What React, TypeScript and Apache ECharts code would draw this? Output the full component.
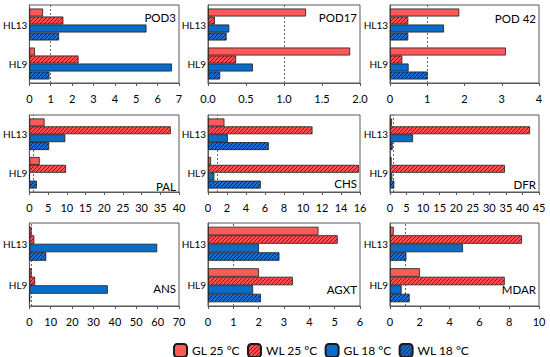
import React, { useEffect, useRef } from "react";
import * as echarts from "echarts";

const categories = ["HL9", "HL13"];
const seriesNames = ["GL 25 °C", "WL 25 °C", "GL 18 °C", "WL 18 °C"];
const panelNames = ["POD3", "POD17", "POD 42", "PAL", "CHS", "DFR", "ANS", "AGXT", "MDAR"];

// values per panel: [series][HL9, HL13]
const pod3 = [[0.26, 0.64], [2.3, 1.59], [6.67, 5.48], [0.94, 1.39]];
const pod17 = [[1.87, 1.29], [0.37, 0.09], [0.59, 0.28], [0.16, 0.245]];
const pod42 = [[3.11, 1.86], [0.33, 0.49], [0.5, 1.45], [1.01, 0.49]];
const pal = [[2.77, 4.07], [9.8, 37.8], [0.1, 9.6], [2.0, 5.3]];
const chs = [[0.32, 1.73], [15.9, 11.0], [0.67, 2.09], [5.56, 6.4]];
const dfr = [[0.5, 0.6], [34.7, 42.3], [0.7, 6.95], [1.3, 0.8]];
const ans = [[1.06, 1.06], [2.7, 2.3], [36.7, 59.8], [0.3, 7.9]];
const agxt = [[2.01, 4.36], [3.35, 5.12], [1.78, 2.01], [2.09, 2.82]];
const mdar = [[2.01, 0.25], [7.7, 8.86], [0.78, 4.9], [1.32, 1.1]];
const panelData = [pod3, pod17, pod42, pal, chs, dfr, ans, agxt, mdar];

const axisMax = [7, 2, 4, 40, 16, 45, 70, 6, 10];
const axisInterval = [1, 0.5, 1, 5, 2, 5, 10, 1, 2];

function hatch(bg: string, fg: string): string {
  const s = 4;
  const c = document.createElement("canvas");
  c.width = s;
  c.height = s;
  const ctx = c.getContext("2d")!;
  ctx.fillStyle = bg;
  ctx.fillRect(0, 0, s, s);
  ctx.strokeStyle = fg;
  ctx.lineWidth = 1;
  ctx.beginPath();
  ctx.moveTo(0, s);
  ctx.lineTo(s, 0);
  ctx.moveTo(-1, 1);
  ctx.lineTo(1, -1);
  ctx.moveTo(s - 1, s + 1);
  ctx.lineTo(s + 1, s - 1);
  ctx.stroke();
  return c.toDataURL();
}

export default function App() {
  const ref = useRef<HTMLDivElement>(null);
  useEffect(() => {
    document.body.style.margin = "0";
    document.body.style.overflow = "hidden";
    if (!ref.current) return;
    const chart = echarts.init(ref.current, undefined, { renderer: "svg" });
    const font = "Lato";
    const colors: any[] = [
      "#ff5a5a",
      { image: hatch("#ff4d4d", "#9a1010"), repeat: "repeat", imageWidth: 4, imageHeight: 4 },
      "#0b6cc8",
      { image: hatch("#1a6cd0", "#0a2350"), repeat: "repeat", imageWidth: 4, imageHeight: 4 },
    ];
    const cols = [
      { left: 25, width: 154 },
      { left: 208, width: 152 },
      { left: 390, width: 149 },
    ];
    const rows = [
      { top: 5, height: 78 },
      { top: 115, height: 77 },
      { top: 223, height: 83 },
    ];
    const grids: any[] = [];
    const xAxes: any[] = [];
    const yAxes: any[] = [];
    const series: any[] = [];
    const graphics: any[] = [];
    const labelPos = [
      { dy: 12, v: "top" },
      { dy: 12, v: "top" },
      { dy: 13, v: "top" },
      { dy: -6, v: "bottom" },
      { dy: -9, v: "bottom" },
      { dy: -8, v: "bottom" },
      { dy: -18, v: "bottom" },
      { dy: -17, v: "bottom" },
      { dy: -17, v: "bottom" },
    ];
    for (let p = 0; p < 9; p++) {
      const r = rows[Math.floor(p / 3)];
      const c = cols[p % 3];
      grids.push({
        left: c.left,
        top: r.top,
        width: c.width,
        height: r.height,
        show: true,
        borderColor: "#595959",
        borderWidth: 1,
        containLabel: false,
      });
      xAxes.push({
        type: "value",
        gridIndex: p,
        min: 0,
        max: axisMax[p],
        interval: axisInterval[p],
        axisLine: { show: true, lineStyle: { color: "#595959" } },
        axisTick: { show: true, length: 3, lineStyle: { color: "#595959" } },
        splitLine: { show: false },
        axisLabel: {
          color: "#000",
          fontFamily: font,
          fontSize: 11,
          margin: 10,
          hideOverlap: false,
          formatter: p === 1 ? (v: number) => v.toFixed(1) : (v: number) => String(v),
        },
      });
      yAxes.push({
        type: "category",
        gridIndex: p,
        data: categories,
        axisLine: { show: true, lineStyle: { color: "#595959" } },
        axisTick: { show: false },
        axisLabel: { color: "#000", fontFamily: font, fontSize: 10, margin: 2 },
      });
      const d = panelData[p];
      for (let s = 0; s < 4; s++) {
        const ser: any = {
          type: "bar",
          name: seriesNames[s],
          xAxisIndex: p,
          yAxisIndex: p,
          data: d[s],
          barGap: "0%",
          barCategoryGap: "18%",
          itemStyle: { color: colors[s], borderColor: "#1a1a1a", borderWidth: 0.8 },
          z: 2,
        };
        if (s === 0) {
          ser.markLine = {
            z: 1,
            silent: true,
            symbol: ["none", "none"],
            label: { show: false },
            lineStyle: { type: [2, 2], color: "#666", width: 1 },
            data: [{ xAxis: 1 }],
          };
        }
        series.push(ser);
      }
      const lp = labelPos[p];
      graphics.push({
        type: "text",
        x: c.left + c.width - 3,
        y: lp.v === "top" ? r.top + lp.dy : r.top + r.height + lp.dy,
        style: {
          text: panelNames[p],
          fill: "#000",
          font: `11.5px ${font}`,
          textAlign: "right",
          textVerticalAlign: "middle",
        },
      });
    }
    chart.setOption({
      animation: false,
      backgroundColor: "#fff",
      grid: grids,
      xAxis: xAxes,
      yAxis: yAxes,
      series,
      graphic: graphics,
      legend: {
        data: seriesNames,
        left: 168,
        top: 338,
        itemWidth: 13,
        itemHeight: 13,
        itemGap: 7,
        textStyle: { fontFamily: font, fontSize: 12, color: "#000" },
      },
    });
    return () => chart.dispose();
  }, []);
  return <div ref={ref} style={{ width: 550, height: 357 }} />;
}
